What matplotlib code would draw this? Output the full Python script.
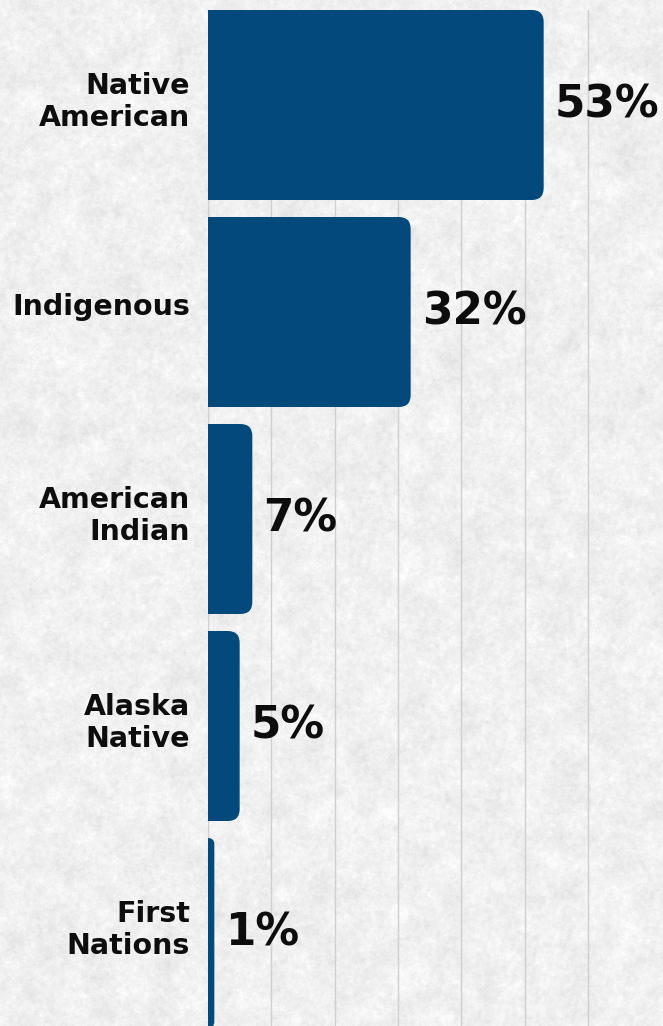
import numpy as np
import matplotlib
matplotlib.use("Agg")
import matplotlib.pyplot as plt
from matplotlib.patches import FancyBboxPatch
from matplotlib.transforms import ScaledTranslation

# Data
categories = ["Native\nAmerican", "Indigenous", "American\nIndian", "Alaska\nNative", "First\nNations"]
shares = [53, 32, 7, 5, 1]
grid_ticks = [0, 10, 20, 30, 40, 50, 60]

BAR_COLOR = "#03497b"
TEXT_COLOR = "#0d0d0d"
W, H, DPI = 663, 1026, 100

fig = plt.figure(figsize=(W / DPI, H / DPI), dpi=DPI)

# Mottled paper texture behind everything
rng = np.random.default_rng(7)
fy = np.fft.fftfreq(H)[:, None]
fx = np.fft.fftfreq(W)[None, :]
freq = np.sqrt(fx ** 2 + fy ** 2)


def smooth_noise(scale):
    noise = rng.standard_normal((H, W))
    out = np.real(np.fft.ifft2(np.fft.fft2(noise) * np.exp(-(freq * scale) ** 2)))
    return out / out.std()


tex = 0.45 * smooth_noise(30) + 0.45 * smooth_noise(7) + 0.35 * smooth_noise(1.8)
tex /= tex.std()
paper = np.clip(0.94 + 0.016 * tex, 0.87, 0.99)
bg_ax = fig.add_axes([0, 0, 1, 1], zorder=-1)
bg_ax.imshow(paper, cmap="gray", vmin=0, vmax=1, aspect="auto", interpolation="bilinear")
bg_ax.axis("off")

# Main axes geometry (pixels)
left_px, top_px = 208, 10
px_per_unit_x = 380 / 60.0
pitch_px = 207
bar_px = 190
ax = fig.add_axes([left_px / W, 0, (W - left_px) / W, (H - top_px) / H])
ax.set_facecolor("none")

xmax = (W - left_px) / px_per_unit_x
bar_h = bar_px / pitch_px
ax.set_xlim(0, xmax)
ax.set_ylim(-bar_h / 2 + (H - top_px) / pitch_px, -bar_h / 2)

ypos = np.arange(len(categories))
bars = ax.barh(ypos, shares, height=bar_h, color=BAR_COLOR)

# Swap plain bars for ones with rounded right-hand corners
aspect = px_per_unit_x / pitch_px
for bar in list(bars):
    x0, y0 = bar.get_x(), bar.get_y()
    w, h = bar.get_width(), bar.get_height()
    r_px = min(12.0, w * px_per_unit_x)
    r = r_px / px_per_unit_x
    bar.remove()
    ax.add_patch(FancyBboxPatch((x0 - r, y0), w + r, h,
                                boxstyle=f"round,pad=0,rounding_size={r}",
                                mutation_aspect=aspect,
                                facecolor=BAR_COLOR, edgecolor="none", zorder=2))

# Value labels
for yi, v in zip(ypos, shares):
    ax.annotate(f"{v}%", xy=(v, yi), xytext=(11, 0), textcoords="offset pixels",
                va="center", ha="left", fontsize=31.5, fontweight="bold",
                color=TEXT_COLOR, family="DejaVu Sans")

ax.set_xticks(grid_ticks)
ax.grid(axis="x", color="#cfcfcf", linewidth=1)
ax.set_axisbelow(True)
ax.tick_params(axis="x", length=0, labelbottom=False)

ax.set_yticks(ypos)
ax.set_yticklabels(categories, fontsize=20.5, fontweight="bold", color=TEXT_COLOR,
                   family="DejaVu Sans", linespacing=1.2)
ax.tick_params(axis="y", length=0, pad=13)
lift = ScaledTranslation(0, 8 / DPI, fig.dpi_scale_trans)
for lbl in ax.get_yticklabels():
    lbl.set_transform(lbl.get_transform() + lift)

for s in ax.spines.values():
    s.set_visible(False)

fig.savefig("out.png", dpi=DPI)
